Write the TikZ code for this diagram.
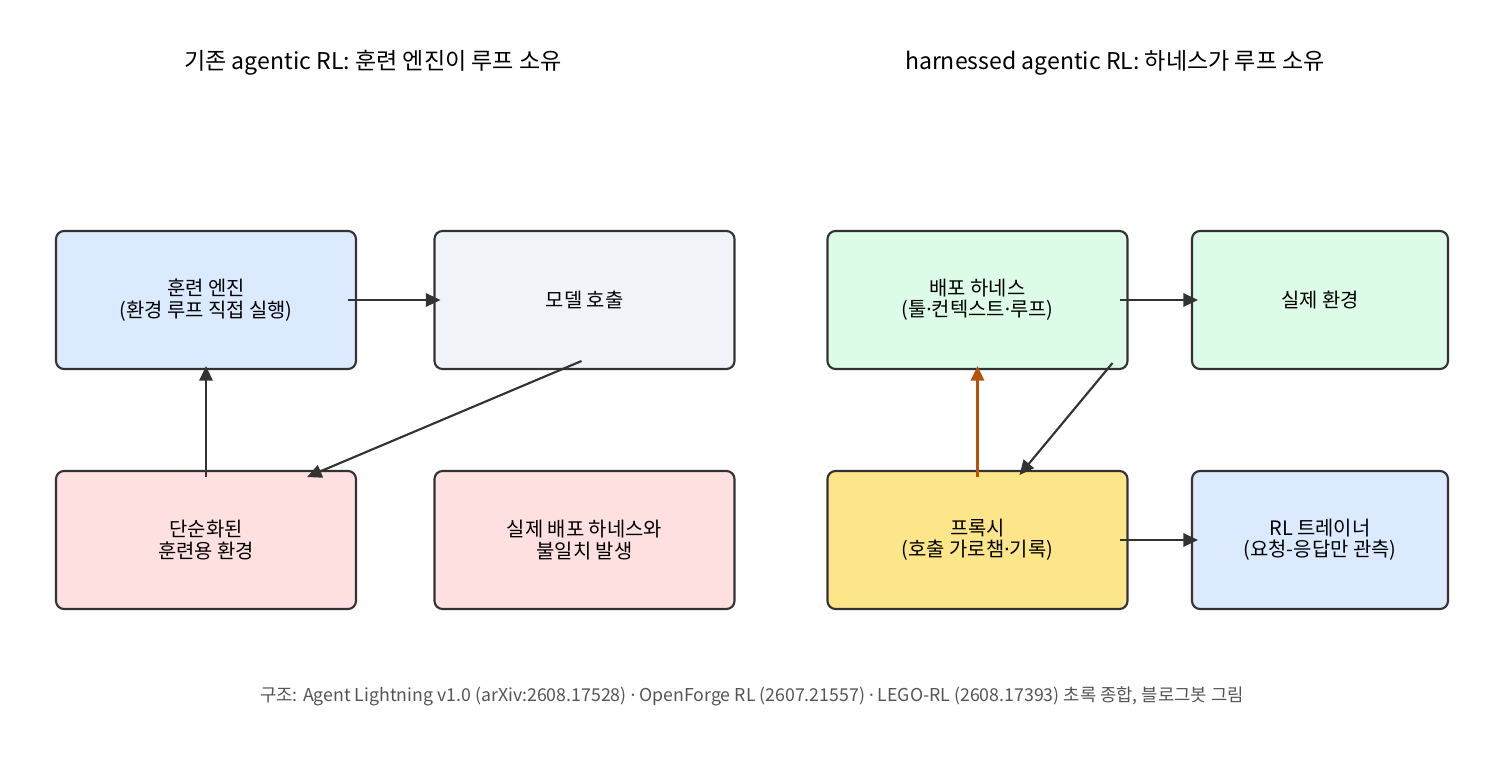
\documentclass[tikz,border=0pt]{standalone}
\usepackage{fontspec}
\setmainfont{Noto Sans CJK KR}
\newfontfamily\dotfont{Noto Sans}
\usetikzlibrary{arrows.meta}

\definecolor{edgegray}{HTML}{333333}
\definecolor{capgray}{HTML}{555555}
\definecolor{fillblue}{HTML}{DBEAFE}
\definecolor{fillslate}{HTML}{F0F4F8}
\definecolor{fillpink}{HTML}{FEE0E0}
\definecolor{fillgreen}{HTML}{DCFCE7}
\definecolor{fillyellow}{HTML}{FDE68A}
\definecolor{arroworange}{HTML}{B45309}

\newcommand{\mdot}{{\dotfont ·}}

\begin{document}
\begin{tikzpicture}[x=0.75pt, y=-0.75pt,
  font=\fontsize{14.9}{16}\selectfont,
  box/.style={draw=edgegray, line width=1.6pt, rounded corners=6pt,
    align=center, outer sep=0pt, minimum height=103.5pt, minimum width=225pt},
  narrowbox/.style={box, minimum width=192pt},
  arr/.style={draw=edgegray, line width=1.6pt,
    -{Triangle[length=11pt, width=10pt]}},
  title/.style={font=\fontsize{17.3}{20}\selectfont},
  caption/.style={font=\fontsize{13.3}{15}\selectfont, text=capgray}]

  % ── Canvas ───────────────────────────────────────────────────────
  \useasboundingbox[fill=white] (0,0) rectangle (1504,768);

  % ── Panel titles ─────────────────────────────────────────────────
  \node[title] (lefttitle)  at (373,63)  {기존 agentic RL: 훈련 엔진이 루프 소유};
  \node[title] (righttitle) at (1115,63) {harnessed agentic RL: 하네스가 루프 소유};

  % ── Left panel: training engine owns the loop ────────────────────
  \node[box, fill=fillblue]  (engine)   at (206,300)   {훈련 엔진\\(환경 루프 직접 실행)};
  \node[box, fill=fillslate] (model)    at (584.5,300) {모델 호출};
  \node[box, fill=fillpink]  (simenv)   at (206,540)   {단순화된\\훈련용 환경};
  \node[box, fill=fillpink]  (mismatch) at (584.5,540) {실제 배포 하네스와\\불일치 발생};

  % ── Right panel: harness owns the loop ───────────────────────────
  \node[box, fill=fillgreen]        (harness) at (977.5,300) {배포 하네스\\(툴\mdot 컨텍스트\mdot 루프)};
  \node[narrowbox, fill=fillgreen]  (realenv) at (1320,300)  {실제 환경};
  \node[box, fill=fillyellow]       (proxy)   at (977.5,540) {프록시\\(호출 가로챔\mdot 기록)};
  \node[narrowbox, fill=fillblue]   (trainer) at (1320,540)  {RL 트레이너\\(요청-응답만 관측)};

  % ── Left connectors ──────────────────────────────────────────────
  \draw[arr] ([shift={(-8,0)}]engine.east) -- ([shift={(6,0)}]model.west);
  \draw[arr] ([shift={(-3,-8)}]model.south) -- ([shift={(101,6)}]simenv.north);
  \draw[arr] ([shift={(0,6)}]simenv.north) -- ([shift={(0,-3)}]engine.south);

  % ── Right connectors ─────────────────────────────────────────────
  \draw[arr] ([shift={(-8,0)}]harness.east) -- ([shift={(6,0)}]realenv.west);
  \draw[arr] ([shift={(-15,-6)}]harness.south east) -- ([shift={(42,4)}]proxy.north);
  \draw[arr, draw=arroworange] ([shift={(0,6)}]proxy.north) -- ([shift={(0,-3)}]harness.south);
  \draw[arr] ([shift={(-8,0)}]proxy.east) -- ([shift={(6,0)}]trainer.west);

  % ── Source line ──────────────────────────────────────────────────
  \node[caption] (source) at (752,696) {구조: Agent Lightning v1.0 (arXiv:2608.17528) \mdot{} OpenForge RL (2607.21557) \mdot{} LEGO-RL (2608.17393) 초록 종합, 블로그봇 그림};

\end{tikzpicture}
\end{document}
